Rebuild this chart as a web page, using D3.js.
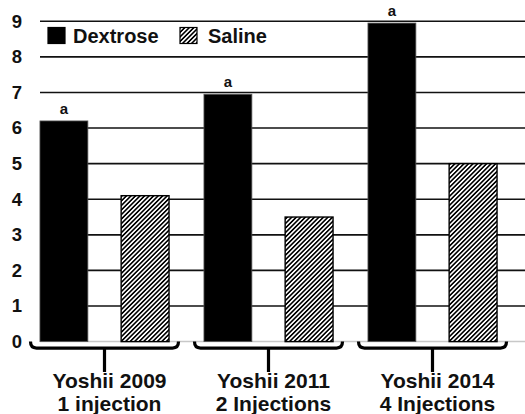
<!DOCTYPE html>
<html>
<head>
<meta charset="utf-8">
<script src="https://cdn.jsdelivr.net/npm/d3@7"></script>
<style>
  html, body { margin: 0; padding: 0; background: #fff; }
  svg { display: block; font-family: "Liberation Sans", Arial, sans-serif; font-weight: bold; }
</style>
</head>
<body>
<svg id="chart" width="525" height="414"></svg>
<script>
// ── Data ──────────────────────────────────────────────────────────────────────
const studies   = ['Yoshii 2009', 'Yoshii 2011', 'Yoshii 2014'];
const doses     = ['1 injection', '2 Injections', '4 Injections'];
const series    = ['Dextrose', 'Saline'];
const dextrose  = [6.2, 6.95, 8.95];
const saline    = [4.1, 3.5, 5.0];
const sigMarks  = ['a', 'a', 'a'];   // letter over the dextrose bar
const yTicks    = [0, 1, 2, 3, 4, 5, 6, 7, 8, 9];

const rows = studies.map((s, i) => ({
  study: s, dose: doses[i], mark: sigMarks[i],
  values: [
    { key: 'Dextrose', v: dextrose[i] },
    { key: 'Saline',   v: saline[i] }
  ]
}));

// ── Scales ────────────────────────────────────────────────────────────────────
const svg = d3.select('#chart');

const y = d3.scaleLinear().domain([0, 9]).range([341.6, 21.3]);

const x0 = d3.scaleBand().domain(studies).range([22.5, 514.5]);
const x1 = d3.scaleBand().domain(series)
  .range([0, x0.bandwidth()])
  .paddingInner(0.41)
  .paddingOuter(0.215);

// hatch pattern for saline — crisp so the stripes stay solid black
const defs = svg.append('defs');
const hs = 3.2;
const pat = defs.append('pattern')
  .attr('id', 'hatch')
  .attr('patternUnits', 'userSpaceOnUse')
  .attr('width', hs).attr('height', hs)
  .attr('patternTransform', 'rotate(45)');
pat.append('rect').attr('width', hs).attr('height', hs).attr('fill', '#fff');
pat.append('rect')
  .attr('x', 0).attr('y', 0).attr('width', 1.5).attr('height', hs)
  .attr('fill', '#000')
  .attr('shape-rendering', 'crispEdges');

const fillFor = k => k === 'Dextrose' ? '#000' : 'url(#hatch)';

// ── Gridlines + y labels ──────────────────────────────────────────────────────
svg.append('g')
  .selectAll('line')
  .data(yTicks.filter(t => t > 0))
  .enter().append('line')
    .attr('x1', 40).attr('x2', 525)
    .attr('y1', d => y(d)).attr('y2', d => y(d))
    .attr('stroke', '#111').attr('stroke-width', 1.6);

svg.append('line')
  .attr('x1', 40).attr('x2', 525)
  .attr('y1', y(0)).attr('y2', y(0))
  .attr('stroke', '#c8c8c8').attr('stroke-width', 1.5);

const yAxis = d3.axisLeft(y).tickValues(yTicks).tickSize(0).tickPadding(0);
svg.append('g')
  .attr('transform', 'translate(22,0)')
  .call(yAxis)
  .call(g => g.select('.domain').remove())
  .selectAll('text')
    .attr('font-size', 18.5)
    .attr('font-weight', 'bold')
    .attr('font-family', '"Liberation Sans", Arial, sans-serif')
    .attr('fill', '#111');

// ── Bars ──────────────────────────────────────────────────────────────────────
const grp = svg.append('g')
  .selectAll('g')
  .data(rows)
  .enter().append('g')
    .attr('transform', d => `translate(${x0(d.study)},0)`);

grp.selectAll('rect')
  .data(d => d.values)
  .enter().append('rect')
    .attr('x', d => x1(d.key))
    .attr('width', x1.bandwidth())
    .attr('y', d => y(d.v))
    .attr('height', d => y(0) - y(d.v))
    .attr('fill', d => fillFor(d.key))
    .attr('stroke', d => d.key === 'Dextrose' ? '#555' : '#000')
    .attr('stroke-width', d => d.key === 'Dextrose' ? 0.8 : 1.4);

// significance letters
grp.append('text')
  .attr('x', x1('Dextrose') + x1.bandwidth() / 2)
  .attr('y', d => y(d.values[0].v) - 7)
  .attr('text-anchor', 'middle')
  .attr('font-size', 15)
  .attr('fill', '#111')
  .text(d => d.mark);

// ── Braces + category labels ──────────────────────────────────────────────────
const bw = x0.bandwidth();
const braceY = y(0) + 6.5;
grp.append('path')
  .attr('d', () => {
    const l = 8, r = bw - 8, c = bw / 2, top = y(0);
    return `M${l},${top} Q${l},${braceY} ${l + 6},${braceY} L${r - 6},${braceY} Q${r},${braceY} ${r},${top}` +
           ` M${c},${braceY} L${c},${braceY + 24}`;
  })
  .attr('fill', 'none')
  .attr('stroke', '#000')
  .attr('stroke-width', 3.2);

const lbl = grp.append('text')
  .attr('text-anchor', 'middle')
  .attr('font-size', 21)
  .attr('fill', '#111');
lbl.append('tspan')
  .attr('x', bw / 2 + 5).attr('y', 388)
  .text(d => d.study);
lbl.append('tspan')
  .attr('x', bw / 2 + 5).attr('y', 411)
  .text(d => d.dose);

// ── Legend ────────────────────────────────────────────────────────────────────
const legend = svg.append('g').attr('transform', 'translate(48,27.5)');
const items = [
  { key: 'Dextrose', x: 0,   tx: 25 },
  { key: 'Saline',   x: 132, tx: 160 }
];
items.forEach(it => {
  legend.append('rect')
    .attr('x', it.x).attr('y', 0)
    .attr('width', 17).attr('height', 16)
    .attr('fill', fillFor(it.key))
    .attr('stroke', '#000').attr('stroke-width', 1.2);
  legend.append('text')
    .attr('x', it.tx).attr('y', 15)
    .attr('font-size', 20)
    .attr('fill', '#111')
    .text(it.key);
});
</script>
</body>
</html>
